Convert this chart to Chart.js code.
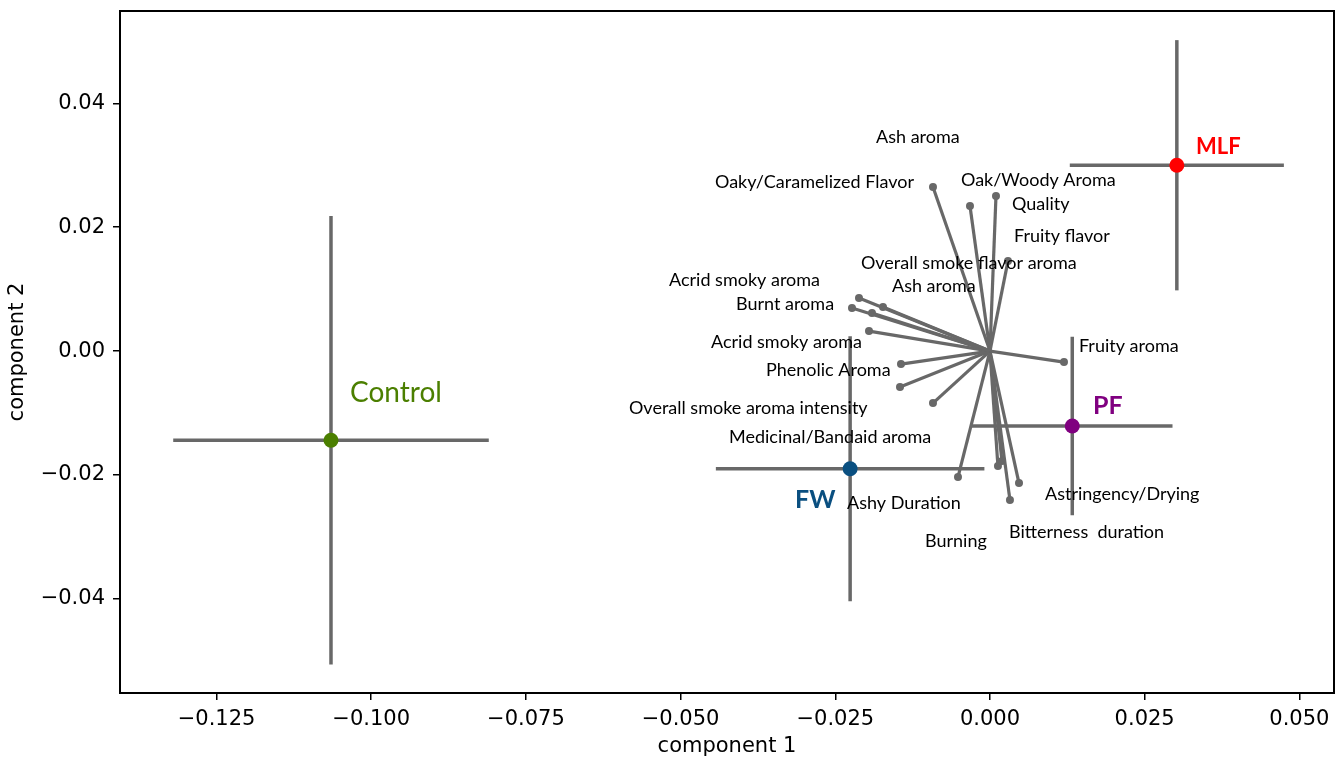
<!DOCTYPE html>
<html>
<head>
<meta charset="utf-8">
<script src="https://cdn.jsdelivr.net/npm/chart.js@4.4.1/dist/chart.umd.min.js"></script>
<style>
    html, body { margin: 0; padding: 0; background: #fff; }
    #wrap { width: 1336px; height: 762px; }
</style>
</head>
<body>
<div id="wrap"><canvas id="biplot" width="1336" height="762"></canvas></div>
<script>
// loading vectors (attribute arrows from the origin)
const loadX = [-0.00921, -0.00323, 0.00097, 0.00291, -0.02117, -0.01729, -0.02230, -0.01907, -0.01955,
    -0.01438, -0.01454, -0.00921, 0.01196, -0.00517, 0.00129, 0.00323, 0.00469, 0.00194];
const loadY = [0.02648, 0.02341, 0.02502, 0.01453, 0.00856, 0.00710, 0.00694, 0.00613, 0.00323,
    -0.00210, -0.00581, -0.00840, -0.00178, -0.02034, -0.01857, -0.02406, -0.02131, -0.01776];

// attribute labels and where they sit
const attrNames = ['Ash aroma', 'Oaky/Caramelized Flavor', 'Oak/Woody Aroma', 'Quality', 'Fruity flavor',
    'Overall smoke flavor aroma', 'Acrid smoky aroma', 'Ash aroma', 'Burnt aroma', 'Acrid smoky aroma',
    'Phenolic Aroma', 'Overall smoke aroma intensity', 'Medicinal/Bandaid aroma', 'Fruity aroma',
    'Ashy Duration', 'Burning', 'Astringency/Drying', 'Bitterness  duration'];
const attrX = [-0.01842, -0.04444, -0.00469, 0.00356, 0.00388, -0.02085, -0.05187, -0.01584, -0.04105,
    -0.04509, -0.03620, -0.05834, -0.04218, 0.01438, -0.02311, -0.01050, 0.00889, 0.00307];
const attrY = [0.03455, 0.02728, 0.02761, 0.02373, 0.01857, 0.01421, 0.01146, 0.01049, 0.00759,
    0.00145, -0.00307, -0.00920, -0.01388, 0.00081, -0.02454, -0.03067, -0.02309, -0.02922];

// treatment means with error bars
const groupNames = ['Control', 'FW', 'PF', 'MLF'];
const groupX = [-0.1065, -0.0226, 0.0133, 0.0302];
const groupY = [-0.0144, -0.0190, -0.0121, 0.0300];
const groupErrX = [0.0255, 0.0217, 0.0162, 0.0173];
const groupErrY = [0.0362, 0.0214, 0.0144, 0.0202];
const groupColors = ['#4b7f00', '#0a4f80', '#800080', '#ff0000'];
const groupLabelX = [-0.10343, -0.03151, 0.01665, 0.03329];
const groupLabelY = [-0.00678, -0.02406, -0.00888, 0.03293];

const xTicks = [-0.125, -0.1, -0.075, -0.05, -0.025, 0, 0.025, 0.05];
const yTicks = [-0.04, -0.02, 0, 0.02, 0.04];

const lineGrey = '#686868';

const datasets = [];

// group points on top
datasets.push({
    data: groupX.map((x, i) => ({ x: x, y: groupY[i] })),
    pointRadius: 7.5,
    pointBorderWidth: 0,
    pointBackgroundColor: groupColors,
    showLine: false
});

// loading vectors
loadX.forEach((x, i) => {
    datasets.push({
        data: [{ x: 0, y: 0 }, { x: x, y: loadY[i] }],
        showLine: true,
        borderColor: lineGrey,
        borderWidth: 3.2,
        pointRadius: [0, 4],
        pointBorderWidth: 0,
        pointBackgroundColor: lineGrey
    });
});

// error bars
groupX.forEach((x, i) => {
    datasets.push({
        data: [{ x: x - groupErrX[i], y: groupY[i] }, { x: x + groupErrX[i], y: groupY[i] }],
        showLine: true,
        borderColor: lineGrey,
        borderWidth: 3.5,
        pointRadius: 0
    });
    datasets.push({
        data: [{ x: x, y: groupY[i] - groupErrY[i] }, { x: x, y: groupY[i] + groupErrY[i] }],
        showLine: true,
        borderColor: lineGrey,
        borderWidth: 3.5,
        pointRadius: 0
    });
});

const fmtMinus = (s) => s.replace('-', '\u2212');

const labelPlugin = {
    id: 'labels',
    afterDatasetsDraw(chart) {
        const ctx = chart.ctx;
        const xs = chart.scales.x;
        const ys = chart.scales.y;
        ctx.save();
        ctx.textAlign = 'left';
        ctx.textBaseline = 'middle';
        ctx.fillStyle = '#000';
        ctx.font = '18px Lato';
        attrNames.forEach((name, i) => {
            ctx.fillText(name, xs.getPixelForValue(attrX[i]), ys.getPixelForValue(attrY[i]));
        });
        groupNames.forEach((name, i) => {
            ctx.fillStyle = groupColors[i];
            let f = 'bold 25px Lato';
            if (name === 'Control') f = '28px Lato';
            if (name === 'MLF') f = 'bold 22px Lato';
            ctx.font = f;
            ctx.fillText(name, xs.getPixelForValue(groupLabelX[i]), ys.getPixelForValue(groupLabelY[i]));
        });
        // axes frame
        const a = chart.chartArea;
        ctx.strokeStyle = '#000';
        ctx.lineWidth = 2;
        ctx.strokeRect(a.left, a.top, a.right - a.left, a.bottom - a.top);
        ctx.restore();
    }
};

const tickFont = { family: 'DejaVu Sans', size: 21 };

function noPad(scale) {
    scale.paddingLeft = 0;
    scale.paddingRight = 0;
    scale.paddingTop = 0;
    scale.paddingBottom = 0;
}

new Chart(document.getElementById('biplot').getContext('2d'), {
    type: 'scatter',
    data: { datasets: datasets },
    options: {
        responsive: false,
        animation: false,
        devicePixelRatio: 1,
        layout: { autoPadding: false, padding: { top: 11, right: 2, left: 0, bottom: 0 } },
        plugins: { legend: { display: false }, tooltip: { enabled: false } },
        scales: {
            x: {
                type: 'linear',
                min: -0.1406,
                max: 0.0556,
                afterBuildTicks: (scale) => { scale.ticks = xTicks.map(v => ({ value: v })); },
                afterFit: (scale) => { scale.height = 69; noPad(scale); },
                border: { display: false },
                grid: { drawOnChartArea: false, drawTicks: true, tickLength: 7, color: '#000', lineWidth: 1.5 },
                ticks: {
                    font: tickFont,
                    color: '#000',
                    padding: 7,
                    maxRotation: 0,
                    autoSkip: false,
                    callback: (v) => fmtMinus(Number(v).toFixed(3))
                },
                title: {
                    display: true,
                    text: 'component 1',
                    font: tickFont,
                    color: '#000',
                    padding: { top: 0, bottom: 3 }
                }
            },
            y: {
                type: 'linear',
                min: -0.0552,
                max: 0.0549,
                afterBuildTicks: (scale) => { scale.ticks = yTicks.map(v => ({ value: v })); },
                afterFit: (scale) => { scale.width = 120; noPad(scale); },
                border: { display: false },
                grid: { drawOnChartArea: false, drawTicks: true, tickLength: 7, color: '#000', lineWidth: 1.5 },
                ticks: {
                    font: tickFont,
                    color: '#000',
                    padding: 8,
                    autoSkip: false,
                    callback: (v) => fmtMinus(Number(v).toFixed(2))
                },
                title: {
                    display: true,
                    text: 'component 2',
                    font: tickFont,
                    color: '#000',
                    padding: { top: 5, bottom: 0 }
                }
            }
        }
    },
    plugins: [labelPlugin]
});
</script>
</body>
</html>
